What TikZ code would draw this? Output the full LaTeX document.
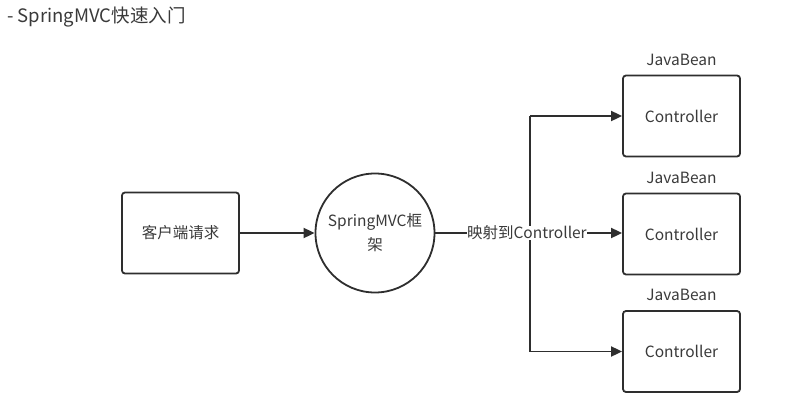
\documentclass[tikz,border=0pt]{standalone}
\usepackage{fontspec}
\setmainfont{Noto Sans CJK SC}
\usetikzlibrary{arrows.meta}
\definecolor{txt}{HTML}{3A3A3A}
\definecolor{ln}{HTML}{2E2E2E}
\begin{document}
\begin{tikzpicture}[x=1pt,y=-1pt,
  box/.style={draw=ln,line width=1.8pt,rounded corners=3pt,minimum width=117pt,minimum height=81pt,inner sep=0pt,text=txt,font=\fontsize{15.5}{18}\selectfont},
  circ/.style={draw=ln,line width=1.8pt,circle,minimum size=119pt,inner sep=0pt,text=txt,font=\fontsize{15.5}{24}\selectfont,align=center},
  lbl/.style={text=txt,font=\fontsize{15.5}{18}\selectfont,inner sep=1pt},
  conn/.style={draw=ln,line width=1.8pt,-{Triangle[length=11pt,width=10pt]}}]
\useasboundingbox[fill=white] (0,0) rectangle (804,415);
\node[anchor=west,text=txt,font=\fontsize{18.5}{22}\selectfont,inner sep=0pt] (title) at (7,17) {- SpringMVC快速入门};
\node[box] (client) at (180.5,233) {客户端请求};
\node[circ] (mvc) at (375,233) {SpringMVC框\\架};
\node[box] (c1) at (681.5,116) {Controller};
\node[box] (c2) at (681.5,234) {Controller};
\node[box] (c3) at (681.5,351.5) {Controller};
\node[lbl,anchor=south] (j1) at (c1.north) [yshift=8pt] {JavaBean};
\node[lbl,anchor=south] (j2) at (c2.north) [yshift=8pt] {JavaBean};
\node[lbl,anchor=south] (j3) at (c3.north) [yshift=8pt] {JavaBean};
\coordinate (top) at (530,116);
\coordinate (bot) at (530,351.5);
\draw[conn] (client.east) -- (mvc.west);
\draw[draw=ln,line width=1.8pt] (top) -- (bot);
\draw[conn] (top) -- (c1.west);
\draw[conn] (bot) -- (c3.west);
\draw[conn] (mvc.east) -- node[fill=white,lbl,inner sep=0pt,pos=0.49] (map) {映射到Controller} (c2.west |- mvc.east);
\end{tikzpicture}
\end{document}
